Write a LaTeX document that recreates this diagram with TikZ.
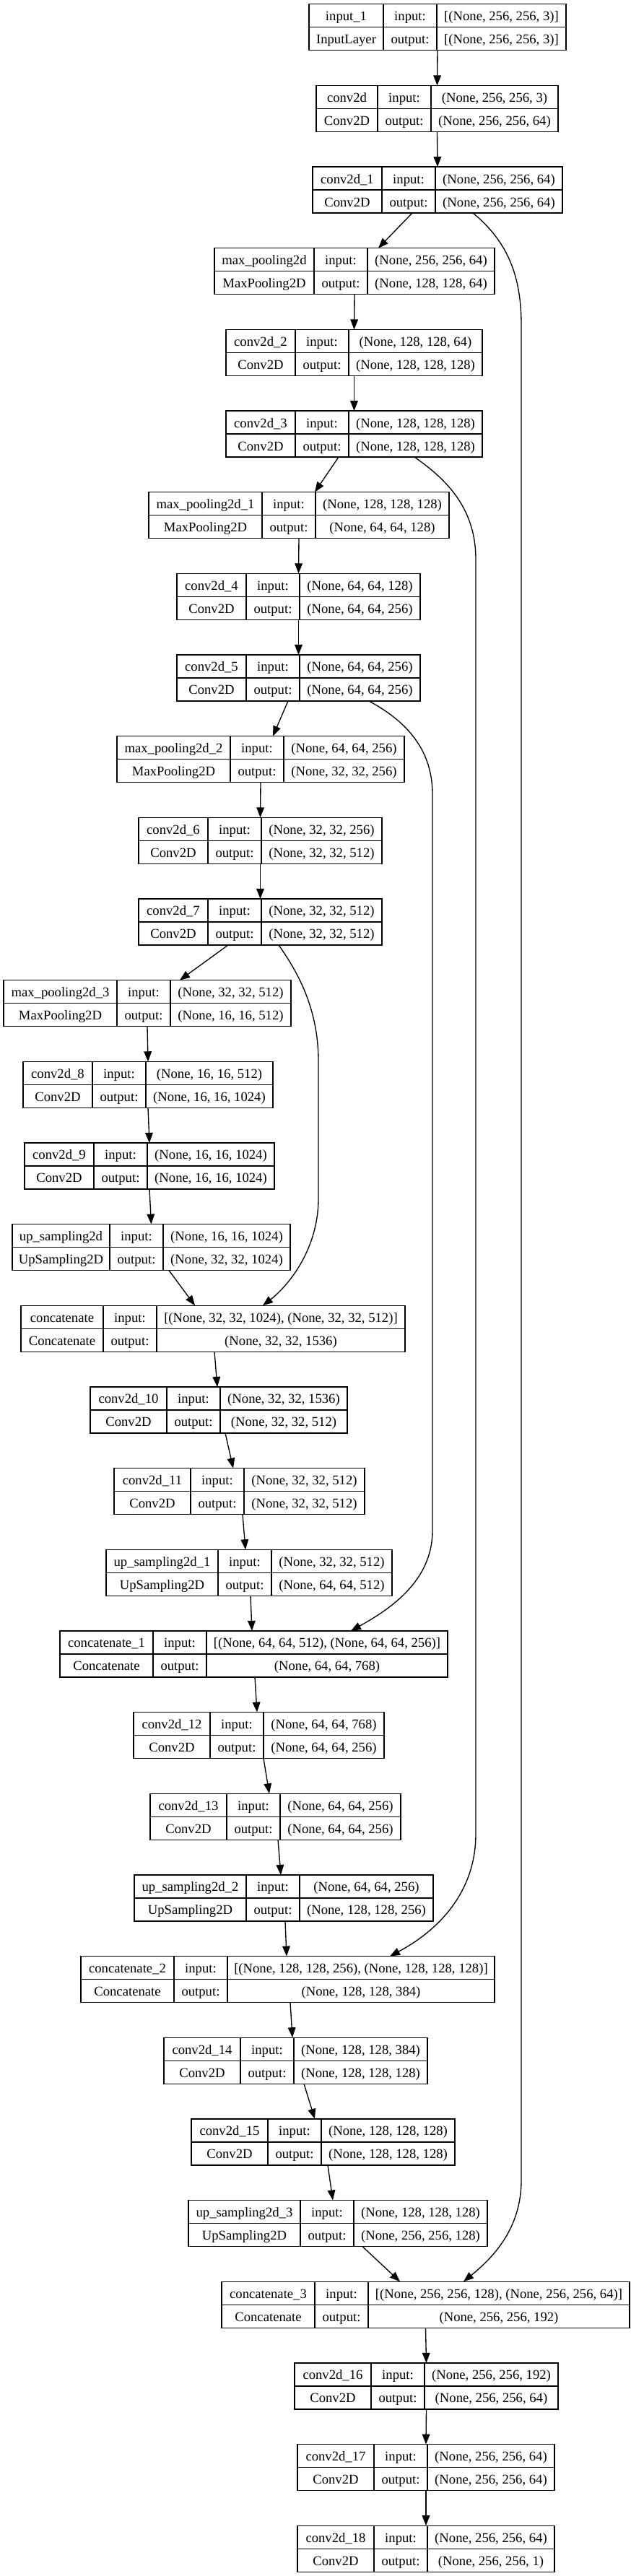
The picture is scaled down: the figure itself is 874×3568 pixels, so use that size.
\documentclass[tikz,border=0pt]{standalone}
\usepackage{fontspec}
\setmainfont{Liberation Serif}
\usetikzlibrary{arrows.meta, calc}

% one layer record: name, row, left x, name column, shape column, texts
\newcommand{\layerbox}[9]{%
  \pgfmathsetmacro{\ytop}{5.7+112.66*(#2-1)}%
  \pgfmathsetmacro{\xa}{#3+#4}%
  \pgfmathsetmacro{\xb}{\xa+74}%
  \pgfmathsetmacro{\xr}{\xb+#5}%
  \node[layer, minimum width={(\xr-#3)*0.75pt}] (#1) at (#3,\ytop) {};
  \draw[rule] (\xa,\ytop) -- ++(0,64) (\xb,\ytop) -- ++(0,64)
    (#3,{\ytop+32}) -- (\xr,{\ytop+32});
  \node[cell] (#1-n) at ({(#3+\xa)/2},{\ytop+23}) {#6};
  \node[cell] (#1-k) at ({(#3+\xa)/2},{\ytop+55}) {#7};
  \node[cell] (#1-i) at ({(\xa+\xb)/2},{\ytop+23}) {input:};
  \node[cell] (#1-o) at ({(\xa+\xb)/2},{\ytop+55}) {output:};
  \node[cell] (#1-v) at ({(\xb+\xr)/2},{\ytop+23}) {#8};
  \node[cell] (#1-w) at ({(\xb+\xr)/2},{\ytop+55}) {#9};
}

\begin{document}
\begin{tikzpicture}[
    x=0.75pt, y=-0.75pt,
    layer/.style={draw, line width=1pt, inner sep=0pt, outer sep=0pt, anchor=north west, minimum height=48pt},
    rule/.style={line width=1pt},
    cell/.style={anchor=base, inner sep=0pt, font=\fontsize{14}{16}\selectfont},
    link/.style={-{Triangle[length=10.5pt, width=8pt]}, line width=1pt}
  ]
  \useasboundingbox (0,0) rectangle (874,3568);

  \layerbox{in1}{1}{428}{103}{179}{input\_1}{InputLayer}{[(None, 256, 256, 3)]}{[(None, 256, 256, 3)]}
  \layerbox{cv0}{2}{438}{85}{176}{conv2d}{Conv2D}{(None, 256, 256, 3)}{(None, 256, 256, 64)}
  \layerbox{cv1}{3}{433}{96}{176}{conv2d\_1}{Conv2D}{(None, 256, 256, 64)}{(None, 256, 256, 64)}
  \layerbox{mp0}{4}{297}{138}{176}{max\_pooling2d}{MaxPooling2D}{(None, 256, 256, 64)}{(None, 128, 128, 64)}
  \layerbox{cv2}{5}{313}{96}{185}{conv2d\_2}{Conv2D}{(None, 128, 128, 64)}{(None, 128, 128, 128)}
  \layerbox{cv3}{6}{313}{96}{185}{conv2d\_3}{Conv2D}{(None, 128, 128, 128)}{(None, 128, 128, 128)}
  \layerbox{mp1}{7}{206}{157}{185}{max\_pooling2d\_1}{MaxPooling2D}{(None, 128, 128, 128)}{(None, 64, 64, 128)}
  \layerbox{cv4}{8}{245}{96}{167}{conv2d\_4}{Conv2D}{(None, 64, 64, 128)}{(None, 64, 64, 256)}
  \layerbox{cv5}{9}{245}{96}{167}{conv2d\_5}{Conv2D}{(None, 64, 64, 256)}{(None, 64, 64, 256)}
  \layerbox{mp2}{10}{162}{157}{167}{max\_pooling2d\_2}{MaxPooling2D}{(None, 64, 64, 256)}{(None, 32, 32, 256)}
  \layerbox{cv6}{11}{192}{96}{167}{conv2d\_6}{Conv2D}{(None, 32, 32, 256)}{(None, 32, 32, 512)}
  \layerbox{cv7}{12}{192}{96}{167}{conv2d\_7}{Conv2D}{(None, 32, 32, 512)}{(None, 32, 32, 512)}
  \layerbox{mp3}{13}{5}{157}{167}{max\_pooling2d\_3}{MaxPooling2D}{(None, 32, 32, 512)}{(None, 16, 16, 512)}
  \layerbox{cv8}{14}{32}{96}{176}{conv2d\_8}{Conv2D}{(None, 16, 16, 512)}{(None, 16, 16, 1024)}
  \layerbox{cv9}{15}{34}{96}{176}{conv2d\_9}{Conv2D}{(None, 16, 16, 1024)}{(None, 16, 16, 1024)}
  \layerbox{up0}{16}{17}{135}{176}{up\_sampling2d}{UpSampling2D}{(None, 16, 16, 1024)}{(None, 32, 32, 1024)}
  \layerbox{cat0}{17}{29}{114}{344}{concatenate}{Concatenate}{[(None, 32, 32, 1024), (None, 32, 32, 512)]}{(None, 32, 32, 1536)}
  \layerbox{cv10}{18}{125}{106}{176}{conv2d\_10}{Conv2D}{(None, 32, 32, 1536)}{(None, 32, 32, 512)}
  \layerbox{cv11}{19}{158}{106}{167}{conv2d\_11}{Conv2D}{(None, 32, 32, 512)}{(None, 32, 32, 512)}
  \layerbox{up1}{20}{147}{155}{167}{up\_sampling2d\_1}{UpSampling2D}{(None, 32, 32, 512)}{(None, 64, 64, 512)}
  \layerbox{cat1}{21}{83}{129}{334}{concatenate\_1}{Concatenate}{[(None, 64, 64, 512), (None, 64, 64, 256)]}{(None, 64, 64, 768)}
  \layerbox{cv12}{22}{185}{106}{167}{conv2d\_12}{Conv2D}{(None, 64, 64, 768)}{(None, 64, 64, 256)}
  \layerbox{cv13}{23}{208}{106}{167}{conv2d\_13}{Conv2D}{(None, 64, 64, 256)}{(None, 64, 64, 256)}
  \layerbox{up2}{24}{186}{155}{185}{up\_sampling2d\_2}{UpSampling2D}{(None, 64, 64, 256)}{(None, 128, 128, 256)}
  \layerbox{cat2}{25}{112}{129}{370}{concatenate\_2}{Concatenate}{[(None, 128, 128, 256), (None, 128, 128, 128)]}{(None, 128, 128, 384)}
  \layerbox{cv14}{26}{227}{106}{185}{conv2d\_14}{Conv2D}{(None, 128, 128, 384)}{(None, 128, 128, 128)}
  \layerbox{cv15}{27}{265}{106}{185}{conv2d\_15}{Conv2D}{(None, 128, 128, 128)}{(None, 128, 128, 128)}
  \layerbox{up3}{28}{261}{155}{185}{up\_sampling2d\_3}{UpSampling2D}{(None, 128, 128, 128)}{(None, 256, 256, 128)}
  \layerbox{cat3}{29}{307}{129}{362}{concatenate\_3}{Concatenate}{[(None, 256, 256, 128), (None, 256, 256, 64)]}{(None, 256, 256, 192)}
  \layerbox{cv16}{30}{408}{106}{185}{conv2d\_16}{Conv2D}{(None, 256, 256, 192)}{(None, 256, 256, 64)}
  \layerbox{cv17}{31}{412}{106}{176}{conv2d\_17}{Conv2D}{(None, 256, 256, 64)}{(None, 256, 256, 64)}
  \layerbox{cv18}{32}{412}{106}{176}{conv2d\_18}{Conv2D}{(None, 256, 256, 64)}{(None, 256, 256, 1)}

  % encoder
  \draw[link] (in1.south) -- (cv0.north);
  \draw[link] (cv0.south) -- (cv1.north);
  \draw[link] ($(cv1.south)+(-35,0)$) -- ($(mp0.north)+(33,0)$);
  \draw[link] (mp0.south) -- (cv2.north);
  \draw[link] (cv2.south) -- (cv3.north);
  \draw[link] ($(cv3.south)+(-21.5,0)$) -- ($(mp1.north)+(22,0)$);
  \draw[link] (mp1.south) -- (cv4.north);
  \draw[link] (cv4.south) -- (cv5.north);
  \draw[link] ($(cv5.south)+(-14.5,0)$) -- ($(mp2.north)+(17,0)$);
  \draw[link] (mp2.south) -- (cv6.north);
  \draw[link] (cv6.south) -- (cv7.north);
  \draw[link] ($(cv7.south)+(-44.5,0)$) -- ($(mp3.north)+(45,0)$);
  \draw[link] (mp3.south) -- (cv8.north);
  \draw[link] (cv8.south) -- (cv9.north);
  \draw[link] (cv9.south) -- (up0.north);

  % skip connections
  \draw[link] ($(cv1.south)+(49,0)$) .. controls +(50,41) and +(0,-65) .. (722,450)
    -- (722,3020) .. controls +(0,65) and +(43,-35) .. ($(cat3.north)+(52.5,0)$);
  \draw[link] ($(cv3.south)+(83.5,0)$) .. controls +(46,32) and +(0,-70) .. (659,775)
    -- (659,2540) .. controls +(0,85) and +(62,-33) .. ($(cat2.north)+(141.5,0)$);
  \draw[link] ($(cv5.south)+(97.5,0)$) .. controls +(54,29) and +(0,-60) .. (599,1100)
    -- (599,2120) .. controls +(0,70) and +(54,-30) .. ($(cat1.north)+(134.5,0)$);
  \draw[link] ($(cv7.south)+(25.5,0)$) .. controls +(29,41) and +(0,-70) .. (441,1470)
    -- (441,1660) .. controls +(0,70) and +(36,-28) .. ($(cat0.north)+(69,0)$);

  % decoder
  \draw[link] ($(up0.south)+(24.5,0)$) -- ($(cat0.north)+(-25,0)$);
  \draw[link] ($(cat0.south)+(2,0)$) -- ($(cv10.north)+(-2,0)$);
  \draw[link] ($(cv10.south)+(9,0)$) -- ($(cv11.north)+(-8.5,0)$);
  \draw[link] ($(cv11.south)+(4.5,0)$) -- ($(up1.north)+(-5,0)$);
  \draw[link] ($(up1.south)+(2,0)$) -- ($(cat1.north)+(-2.5,0)$);
  \draw[link] ($(cat1.south)+(1.5,0)$) -- ($(cv12.north)+(-2.5,0)$);
  \draw[link] ($(cv12.south)+(6.5,0)$) -- ($(cv13.north)+(-8.5,0)$);
  \draw[link] ($(cv13.south)+(3.5,0)$) -- ($(up2.north)+(-4,0)$);
  \draw[link] ($(up2.south)+(2,0)$) -- ($(cat2.north)+(-1.5,0)$);
  \draw[link] ($(cat2.south)+(3.5,0)$) -- ($(cv14.north)+(-4.5,0)$);
  \draw[link] ($(cv14.south)+(11.5,0)$) -- ($(cv15.north)+(-11.5,0)$);
  \draw[link] ($(cv15.south)+(6.5,0)$) -- ($(up3.north)+(-7,0)$);
  \draw[link] ($(up3.south)+(34,0)$) -- ($(cat3.north)+(-35.5,0)$);
  \draw[link] (cat3.south) -- (cv16.north);
  \draw[link] (cv16.south) -- (cv17.north);
  \draw[link] (cv17.south) -- (cv18.north);
\end{tikzpicture}
\end{document}
